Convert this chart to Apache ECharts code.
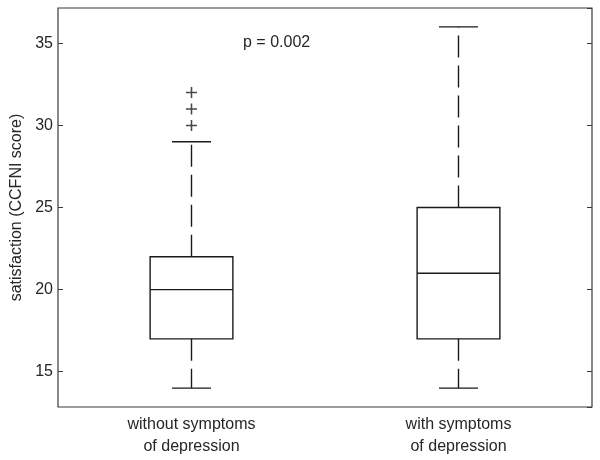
<!DOCTYPE html>
<html>
<head>
<meta charset="utf-8">
<script src="https://cdn.jsdelivr.net/npm/echarts@6/dist/echarts.min.js"></script>
<style>
  html, body { margin: 0; padding: 0; background: #fff; }
  #main { width: 600px; height: 460px; }
</style>
</head>
<body>
<div id="main"></div>
<script>
// data
var categories = ['without symptoms\nof depression', 'with symptoms\nof depression'];
var whiskerLow = [14, 14];
var q1 = [17, 17];
var median = [20, 21];
var q3 = [22, 25];
var whiskerHigh = [29, 36];
var outlierGroup = [0, 0, 0];
var outlierValue = [30, 31, 32];
var pText = 'p = 0.002';

var font = 'Liberation Sans, Arial, sans-serif';
var ink = '#1a1a1a';

var boxRows = [];
for (var i = 0; i < categories.length; i++) {
    boxRows.push([i, whiskerLow[i], q1[i], median[i], q3[i], whiskerHigh[i]]);
}
var outlierRows = [];
for (var j = 0; j < outlierValue.length; j++) {
    outlierRows.push([outlierGroup[j], outlierValue[j]]);
}

function renderBox(params, api) {
    var x = api.value(0);
    var pLow = api.coord([x, api.value(1)]);
    var pQ1 = api.coord([x, api.value(2)]);
    var pMed = api.coord([x, api.value(3)]);
    var pQ3 = api.coord([x, api.value(4)]);
    var pHigh = api.coord([x, api.value(5)]);
    var band = api.size([1, 0])[0];
    var bw = band * 0.31, cw = band * 0.146;
    var cx = pLow[0];
    var solid = {stroke: ink, lineWidth: 1.4, fill: 'none'};
    var dashed = {stroke: ink, lineWidth: 1.4, lineDash: [22, 8], fill: 'none'};
    return {
        type: 'group',
        children: [
            {type: 'rect', shape: {x: cx - bw / 2, y: pQ3[1], width: bw, height: pQ1[1] - pQ3[1]}, style: solid},
            {type: 'line', shape: {x1: cx - bw / 2, y1: pMed[1], x2: cx + bw / 2, y2: pMed[1]}, style: solid},
            {type: 'line', shape: {x1: cx, y1: pQ3[1], x2: cx, y2: pHigh[1]}, style: dashed},
            {type: 'line', shape: {x1: cx, y1: pQ1[1], x2: cx, y2: pLow[1]}, style: dashed},
            {type: 'line', shape: {x1: cx - cw / 2, y1: pHigh[1], x2: cx + cw / 2, y2: pHigh[1]}, style: solid},
            {type: 'line', shape: {x1: cx - cw / 2, y1: pLow[1], x2: cx + cw / 2, y2: pLow[1]}, style: solid}
        ]
    };
}

var yMin = 12.85, yMax = 37.15;

var option = {
    animation: false,
    backgroundColor: '#fff',
    textStyle: {fontFamily: font, color: '#262626'},
    grid: {
        left: 58, right: 8, top: 8, bottom: 53,
        show: true, borderColor: '#3a3a3a', borderWidth: 1.2
    },
    xAxis: {
        type: 'category',
        data: categories,
        axisLine: {show: false},
        axisTick: {show: false},
        splitLine: {show: false},
        axisLabel: {fontSize: 16, color: '#262626', lineHeight: 22, margin: 7, fontFamily: font}
    },
    yAxis: [{
        type: 'value',
        min: yMin, max: yMax,
        name: 'satisfaction (CCFNI score)',
        nameLocation: 'middle',
        nameGap: 29,
        nameTextStyle: {fontSize: 16, color: '#262626', fontFamily: font},
        axisLine: {show: false},
        axisTick: {show: true, inside: true, length: 5, lineStyle: {color: '#3a3a3a'}},
        splitLine: {show: false},
        axisLabel: {fontSize: 16, color: '#262626', margin: 5, showMinLabel: false, showMaxLabel: false, fontFamily: font}
    }, {
        type: 'value',
        position: 'right',
        min: yMin, max: yMax,
        axisLine: {show: false},
        axisTick: {show: true, inside: true, length: 5, lineStyle: {color: '#3a3a3a'}},
        splitLine: {show: false},
        axisLabel: {show: false}
    }],
    graphic: [{
        type: 'text',
        left: 243, top: 35,
        style: {text: pText, fontSize: 16, fill: '#262626', fontFamily: font}
    }],
    series: [{
        type: 'custom',
        renderItem: renderBox,
        encode: {x: 0, y: [1, 2, 3, 4, 5]},
        data: boxRows,
        z: 2
    }, {
        type: 'scatter',
        data: outlierRows,
        symbol: 'path://M4.3,0h1.4v4.3h4.3v1.4h-4.3v4.3h-1.4v-4.3h-4.3v-1.4h4.3z',
        symbolSize: 11,
        itemStyle: {color: ink},
        z: 3
    }]
};

echarts.init(document.getElementById('main')).setOption(option);
</script>
</body>
</html>
